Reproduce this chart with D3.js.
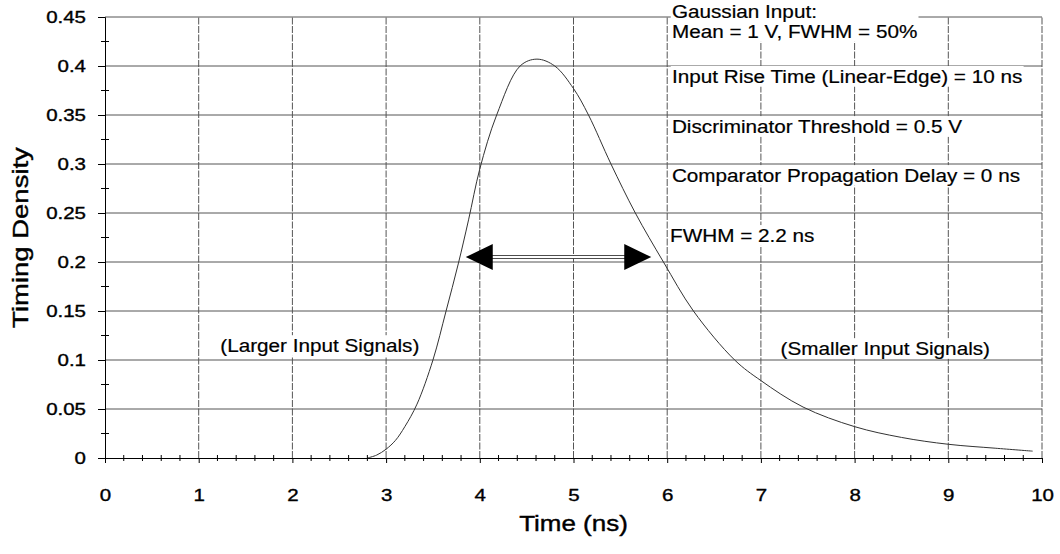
<!DOCTYPE html>
<html>
<head>
<meta charset="utf-8">
<script src="https://cdn.jsdelivr.net/npm/d3@7"></script>
<style>
  body { margin: 0; background: #fff; }
  svg { display: block; font-family: "Liberation Sans", Arial, Helvetica, sans-serif; }
</style>
</head>
<body>
<div id="chart"></div>
<script>
// timing density curve
const timeNs  = [2.8, 2.9, 3.0, 3.1, 3.2, 3.33, 3.5, 3.64, 3.77, 3.88, 4.0, 4.18, 4.43, 4.61, 4.8, 5.0, 5.16, 5.4, 5.66, 5.96, 6.28, 6.72, 7.0, 7.45, 8.0, 8.5, 9.0, 9.5, 9.9];
const density = [0, 0.003, 0.009, 0.018, 0.032, 0.055, 0.10, 0.15, 0.198, 0.243, 0.295, 0.35, 0.40, 0.407, 0.40, 0.377, 0.35, 0.30, 0.25, 0.20, 0.15, 0.10, 0.079, 0.052, 0.032, 0.021, 0.014, 0.010, 0.007];

// axis ticks
const xTicks = [0, 1, 2, 3, 4, 5, 6, 7, 8, 9, 10];
const yTicks = [0, 0.05, 0.1, 0.15, 0.2, 0.25, 0.3, 0.35, 0.4, 0.45];
const yTickLabels = ["0", "0.05", "0.1", "0.15", "0.2", "0.25", "0.3", "0.35", "0.4", "0.45"];

// FWHM arrow (start, end in ns) and its level
const fwhmSpan = [3.85, 5.83];
const fwhmLevel = 0.205;

// annotation texts
const noteLines = [
  ["Gaussian Input:", "Mean = 1 V, FWHM = 50%"],
  ["Input Rise Time (Linear-Edge) = 10 ns"],
  ["Discriminator Threshold = 0.5 V"],
  ["Comparator Propagation Delay = 0 ns"],
  ["FWHM = 2.2 ns"],
  ["(Larger Input Signals)"],
  ["(Smaller Input Signals)"]
];
const noteAt = [[6.05, 0.449], [6.05, 0.3827], [6.05, 0.3316], [6.05, 0.2816], [6.03, 0.2204], [1.23, 0.108], [7.21, 0.105]];

const width = 1060, height = 554;
const svg = d3.select("#chart").append("svg")
  .attr("width", width)
  .attr("height", height);

const x = d3.scaleLinear().domain([0, 10]).range([105, 1042]);
const y = d3.scaleLinear().domain([0, 0.45]).range([458, 17]);

const tickSx = 1.28;   // the scan's digits are much wider than Arial
const noteSx = 1.12;

// grid
const grid = svg.append("g").attr("stroke", "#555").attr("stroke-width", 1);
grid.selectAll(".hg").data(yTicks.slice(1)).enter().append("line")
  .attr("x1", x(0)).attr("x2", x(10))
  .attr("y1", d => y(d)).attr("y2", d => y(d));
grid.selectAll(".vg").data(xTicks.slice(1)).enter().append("line")
  .attr("x1", d => x(d)).attr("x2", d => x(d))
  .attr("y1", y(0)).attr("y2", y(0.45))
  .attr("stroke-dasharray", "7,1.5");

// curve
const pts = timeNs.map((t, i) => [t, density[i]]);
svg.append("path")
  .datum(pts)
  .attr("fill", "none")
  .attr("stroke", "#333")
  .attr("stroke-width", 1)
  .attr("d", d3.line().x(d => x(d[0])).y(d => y(d[1])).curve(d3.curveCatmullRom.alpha(0.5)));

// y axis
const yAxis = svg.append("g")
  .attr("transform", `translate(${x(0)},0)`)
  .call(d3.axisLeft(y).tickValues(yTicks).tickSize(7).tickFormat((d, i) => yTickLabels[i]));
yAxis.select(".domain").attr("stroke", "#000");
yAxis.selectAll("text")
  .attr("font-size", 16)
  .attr("font-family", "Liberation Sans, Arial, sans-serif")
  .attr("fill", "#000")
  .attr("stroke", "#000").attr("stroke-width", 0.35)
  .attr("x", -19 / tickSx)
  .attr("transform", `scale(${tickSx},1)`);

// minor y ticks
const yMinor = yTicks.slice(0, -1).map(d => d + 0.025);
svg.append("g").selectAll("line").data(yMinor).enter().append("line")
  .attr("x1", x(0) - 4).attr("x2", x(0) + 4)
  .attr("y1", d => y(d)).attr("y2", d => y(d))
  .attr("stroke", "#000");

// x axis
const xAxis = svg.append("g")
  .attr("transform", `translate(0,${y(0)})`)
  .call(d3.axisBottom(x).tickValues(xTicks).tickSize(5).tickFormat(d3.format("d")));
xAxis.select(".domain").attr("stroke", "#000");
xAxis.selectAll(".tick text")
  .attr("font-size", 16)
  .attr("font-family", "Liberation Sans, Arial, sans-serif")
  .attr("fill", "#000")
  .attr("stroke", "#000").attr("stroke-width", 0.35)
  .attr("x", 0)
  .attr("y", 32)
  .attr("transform", `scale(${tickSx},1)`);

// minor x ticks every 0.2 ns
const xMinor = d3.range(0, 10, 0.2).filter(d => Math.abs(d - Math.round(d)) > 1e-6);
svg.append("g").selectAll("line").data(xMinor).enter().append("line")
  .attr("x1", d => x(d)).attr("x2", d => x(d))
  .attr("y1", y(0) - 3).attr("y2", y(0) + 3)
  .attr("stroke", "#000");

// axis titles
svg.append("text")
  .attr("transform", `translate(${(x(0) + x(10)) / 2},531) scale(1.18,1)`)
  .attr("text-anchor", "middle")
  .attr("font-size", 22)
  .attr("stroke", "#000").attr("stroke-width", 0.4)
  .text("Time (ns)");
svg.append("text")
  .attr("transform", `translate(27.5,${(y(0) + y(0.45)) / 2}) rotate(-90) scale(1.25,1)`)
  .attr("text-anchor", "middle")
  .attr("font-size", 22)
  .attr("stroke", "#000").attr("stroke-width", 0.4)
  .text("Timing Density");

// FWHM double arrow
const ax0 = x(fwhmSpan[0]), ax1 = x(fwhmSpan[1]), ay = y(fwhmLevel);
const head = 27, half = 13;
const arrow = svg.append("g");
arrow.append("rect")
  .attr("x", ax0 + head - 1).attr("y", ay - 1.5)
  .attr("width", ax1 - ax0 - 2 * head + 2).attr("height", 3)
  .attr("fill", "#fff").attr("stroke", "#222").attr("stroke-width", 0.8);
arrow.append("path")
  .attr("d", `M${ax0},${ay} L${ax0 + head},${ay - half} L${ax0 + head},${ay + half} Z`)
  .attr("fill", "#000");
arrow.append("path")
  .attr("d", `M${ax1},${ay} L${ax1 - head},${ay - half} L${ax1 - head},${ay + half} Z`)
  .attr("fill", "#000");

// annotations, each on its own white box
noteLines.forEach((lines, i) => {
  const g = svg.append("g")
    .attr("transform", `translate(${x(noteAt[i][0])},${y(noteAt[i][1])}) scale(${noteSx},1)`);
  const box = g.append("rect").attr("fill", "#fff");
  const t = g.append("text").attr("font-size", 18.5).attr("fill", "#000")
    .attr("stroke", "#000").attr("stroke-width", 0.2);
  lines.forEach((s, j) => {
    t.append("tspan").attr("x", 0).attr("y", j * 20).text(s);
  });
  const b = t.node().getBBox();
  box.attr("x", b.x - 1).attr("y", b.y).attr("width", b.width + 2).attr("height", b.height);
});
</script>
</body>
</html>
